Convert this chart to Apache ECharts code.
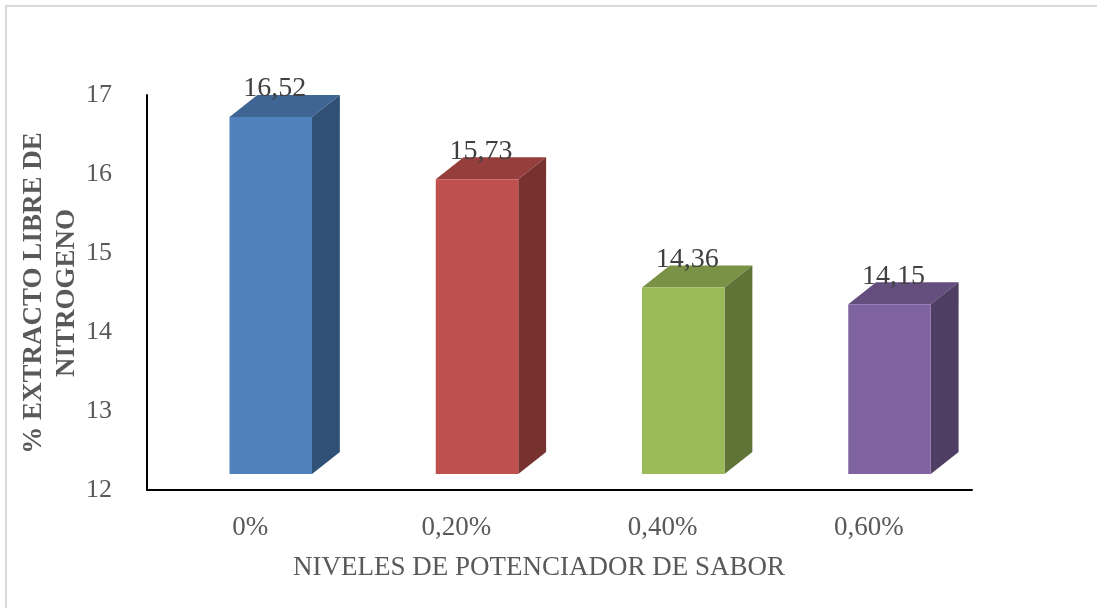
<!DOCTYPE html>
<html>
<head>
<meta charset="utf-8">
<script src="https://cdn.jsdelivr.net/npm/echarts@6/dist/echarts.min.js"></script>
<style>
  html, body { margin: 0; padding: 0; background: #fff; }
  #chart { width: 1097px; height: 608px; }
</style>
</head>
<body>
<div id="chart"></div>
<script>
  // data
  var categories = ['0%', '0,20%', '0,40%', '0,60%'];
  var values = [16.52, 15.73, 14.36, 14.15];
  var valueLabels = ['16,52', '15,73', '14,36', '14,15'];
  var yTicks = [12, 13, 14, 15, 16, 17];

  // front / top / side colours of each bar
  var frontColors = ['#4F81BD', '#C0504D', '#9BBB59', '#8064A2'];
  var topColors = ['#3E6593', '#963E3C', '#799245', '#644E7E'];
  var sideColors = ['#315075', '#773230', '#607437', '#4F3E64'];

  var font = "'Liberation Serif', 'Times New Roman', serif";

  var chart = echarts.init(document.getElementById('chart'));

  function renderBar(params, api) {
    var idx = api.value(0);
    var top = api.coord([idx, api.value(1)]);
    var base = api.coord([idx, yTicks[0]]);
    var bw = api.size([1, 0])[0];
    // pseudo 3D: front face shifted up a bit, depth goes up-right
    var lift = 16;
    var x0 = top[0] - bw * 0.1;
    var x1 = x0 + bw * 0.4;
    var yt = top[1] - lift;
    var yb = base[1] - lift;
    var dx = bw * 0.135, dy = -22;
    return {
      type: 'group',
      children: [
        {
          type: 'polygon',
          shape: { points: [[x0, yt], [x0 + dx, yt + dy], [x1 + dx, yt + dy], [x1, yt]] },
          style: { fill: topColors[idx] }
        },
        {
          type: 'polygon',
          shape: { points: [[x1, yt], [x1 + dx, yt + dy], [x1 + dx, yb + dy], [x1, yb]] },
          style: { fill: sideColors[idx] }
        },
        {
          type: 'rect',
          shape: { x: x0, y: yt, width: x1 - x0, height: yb - yt },
          style: { fill: frontColors[idx] }
        },
        {
          type: 'text',
          x: (x0 + x1) / 2 + 4,
          y: yt - 28,
          style: {
            text: valueLabels[idx],
            fill: '#404040',
            font: '28px ' + font,
            align: 'center',
            verticalAlign: 'middle'
          }
        }
      ]
    };
  }

  var option = {
    backgroundColor: '#fff',
    animation: false,
    grid: { left: 147, right: 125, top: 95, bottom: 118 },
    xAxis: {
      type: 'category',
      data: categories,
      axisLine: { lineStyle: { color: '#000', width: 2 } },
      axisTick: { show: false },
      axisLabel: { color: '#595959', fontSize: 27, fontFamily: font, margin: 24 }
    },
    yAxis: {
      type: 'value',
      min: yTicks[0],
      max: yTicks[yTicks.length - 1],
      interval: 1,
      axisLine: { show: true, lineStyle: { color: '#000', width: 2 } },
      axisTick: { show: false },
      splitLine: { show: false },
      axisLabel: { color: '#595959', fontSize: 26, fontFamily: font, margin: 35 }
    },
    graphic: [
      {
        type: 'polyline',
        shape: { points: [[6, 608], [6, 6], [1097, 6]] },
        style: { stroke: '#D9D9D9', lineWidth: 2, fill: null }
      },
      {
        type: 'text',
        x: 51,
        y: 293,
        rotation: Math.PI / 2,
        style: {
          text: '% EXTRACTO LIBRE DE\nNITROGENO',
          fill: '#595959',
          font: 'bold 27px ' + font,
          lineHeight: 33,
          align: 'center',
          verticalAlign: 'middle'
        }
      },
      {
        type: 'text',
        x: 539,
        y: 568,
        style: {
          text: 'NIVELES DE POTENCIADOR DE SABOR',
          fill: '#595959',
          font: '27px ' + font,
          align: 'center',
          verticalAlign: 'middle'
        }
      }
    ],
    series: [
      {
        type: 'custom',
        renderItem: renderBar,
        clip: false,
        data: values.map(function (v, i) { return [i, v]; })
      }
    ]
  };

  chart.setOption(option);
</script>
</body>
</html>
